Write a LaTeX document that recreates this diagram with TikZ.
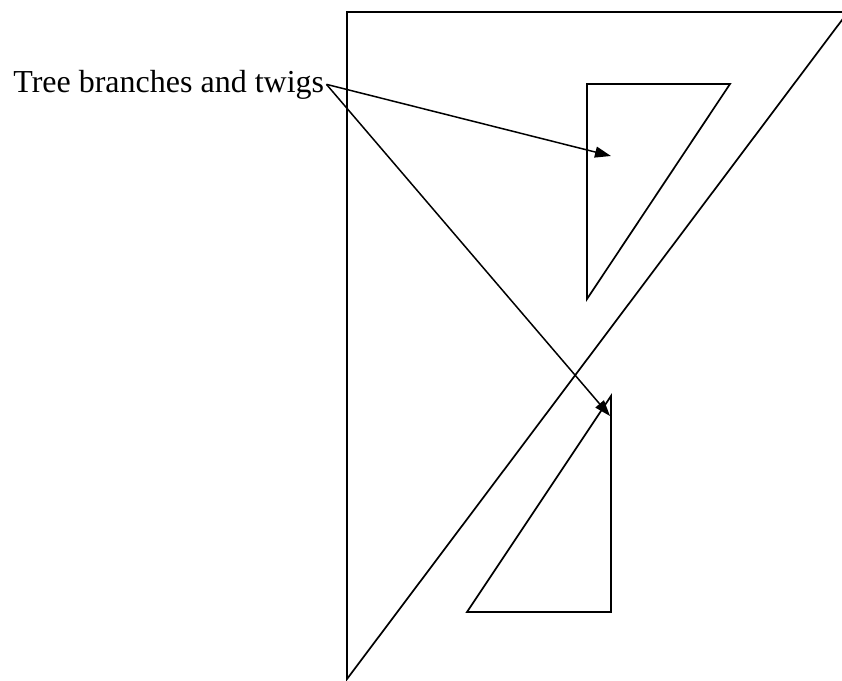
\documentclass[tikz,border=0pt]{standalone}
\usepackage{fontspec}
\setmainfont{Liberation Serif}
\usepackage{tikz}
\usetikzlibrary{arrows.meta}

\begin{document}
\begin{tikzpicture}[x=1pt, y=-1pt, line width=1.7pt, line join=miter,
    pointer/.style={-{Triangle[length=16pt, width=11pt]}, line width=1.5pt},
    caption/.style={inner sep=1.5pt, font=\fontsize{32}{38}\selectfont}]
  \useasboundingbox (0,0) rectangle (842,680);
  % Large outer triangle
  \draw (848,12) -- (347,12) -- (347,679) -- cycle;
  % Upper small triangle
  \draw (587,84) -- (730,84) -- (587,299) -- cycle;
  % Lower small triangle
  \draw (611,396) -- (611,612) -- (467,612) -- cycle;
  % Label and arrows
  \node[caption, anchor=base west] (label) at (11,92) {Tree branches and twigs};
  \coordinate (upper) at (611,156);
  \coordinate (lower) at (610,416);
  \draw[pointer] (label.east) -- (upper);
  \draw[pointer] (label.east) -- (lower);
\end{tikzpicture}
\end{document}
